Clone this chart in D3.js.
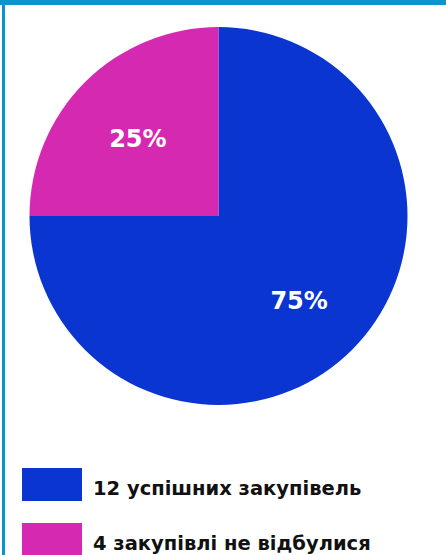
<!DOCTYPE html>
<html>
<head>
<meta charset="utf-8">
<script src="https://cdn.jsdelivr.net/npm/d3@7"></script>
<style>
  body { margin: 0; background: #fff; }
  svg { display: block; }
</style>
</head>
<body>
<div id="chart"></div>
<script>
var labels = ["12 успішних закупівель", "4 закупівлі не відбулися"];
var values = [12, 4];
var colors = ["#0b35d1", "#d629b2"];

var width = 446, height = 555;
var svg = d3.select("#chart").append("svg")
    .attr("width", width)
    .attr("height", height);

// frame: top bar + left edge
svg.append("rect").attr("x", 0).attr("y", 0).attr("width", width).attr("height", 5).attr("fill", "#0797cc");
svg.append("rect").attr("x", 2).attr("y", 0).attr("width", 3).attr("height", height).attr("fill", "#0797cc");

var cx = 218.5, cy = 216, r = 189;
var total = d3.sum(values);

var pie = d3.pie().sort(null).value(function (d) { return d; });
var arc = d3.arc().innerRadius(0).outerRadius(r);
var labelArc = d3.arc().innerRadius(114).outerRadius(114);

var g = svg.append("g").attr("transform", "translate(" + cx + "," + cy + ")");
var arcs = pie(values);

g.selectAll("path.slice")
    .data(arcs)
    .enter().append("path")
    .attr("class", "slice")
    .attr("d", arc)
    .attr("fill", function (d, i) { return colors[i]; });

g.selectAll("text.pct")
    .data(arcs)
    .enter().append("text")
    .attr("class", "pct")
    .attr("transform", function (d) { return "translate(" + labelArc.centroid(d) + ")"; })
    .attr("text-anchor", "middle")
    .attr("dy", "0.5em")
    .attr("fill", "#fff")
    .attr("font-family", "DejaVu Sans")
    .attr("font-weight", "bold")
    .attr("font-size", 24)
    .text(function (d) { return Math.round(d.value / total * 100) + "%"; });

var legend = svg.append("g").attr("transform", "translate(22,468)");
var item = legend.selectAll("g")
    .data(labels)
    .enter().append("g")
    .attr("transform", function (d, i) { return "translate(0," + (i * 55) + ")"; });

item.append("rect")
    .attr("width", 60)
    .attr("height", 33)
    .attr("fill", function (d, i) { return colors[i]; });

item.append("text")
    .attr("x", 71)
    .attr("y", 27)
    .attr("fill", "#111")
    .attr("font-family", "DejaVu Sans")
    .attr("font-weight", "bold")
    .attr("font-size", 19.5)
    .text(function (d) { return d; });
</script>
</body>
</html>
